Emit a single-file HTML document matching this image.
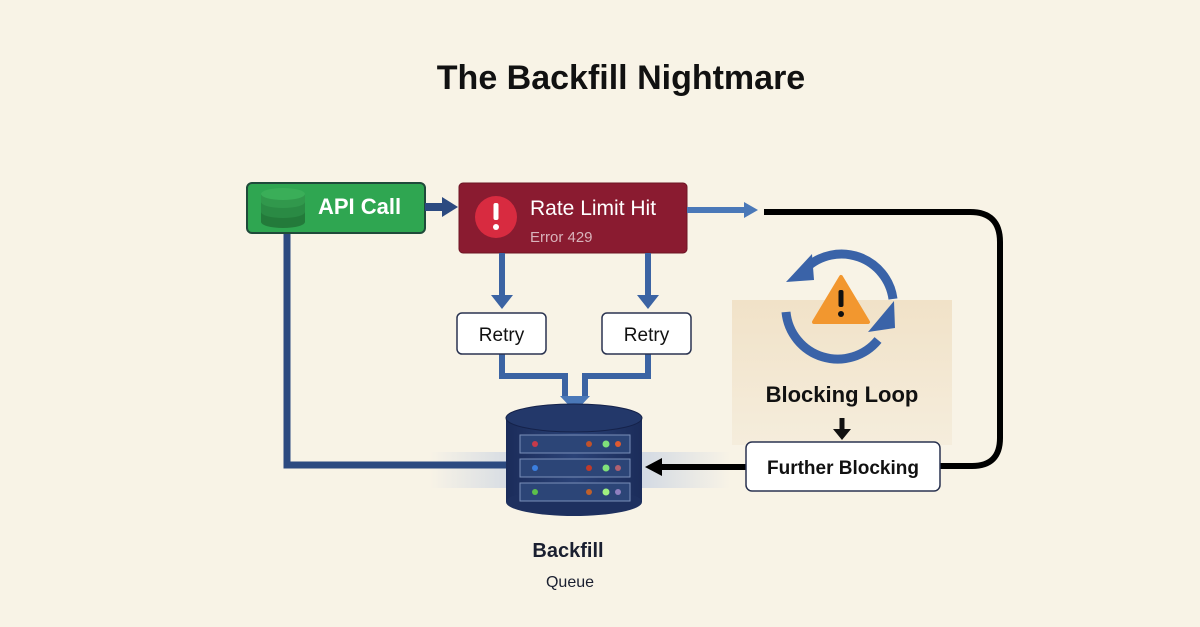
<!DOCTYPE html>
<html><head><meta charset="utf-8"><style>
html,body{margin:0;padding:0;background:#f8f3e6;}
svg{display:block;font-family:"Liberation Sans","DejaVu Sans",sans-serif;}
</style></head><body>
<svg width="1200" height="627" viewBox="0 0 1200 627" xmlns="http://www.w3.org/2000/svg">
<defs>
<linearGradient id="pan" x1="0" y1="0" x2="0" y2="1"><stop offset="0" stop-color="#f1e2c8"/><stop offset="1" stop-color="#f5eddc"/></linearGradient>
<linearGradient id="cyl" x1="0" y1="0" x2="1" y2="0"><stop offset="0" stop-color="#1b2c5a"/><stop offset="0.5" stop-color="#2a4277"/><stop offset="1" stop-color="#1b2c5a"/></linearGradient>
<linearGradient id="glow" x1="0" y1="0" x2="1" y2="0"><stop offset="0" stop-color="#c9d3e3" stop-opacity="0"/><stop offset="0.3" stop-color="#c9d3e3" stop-opacity="0.8"/><stop offset="0.7" stop-color="#c9d3e3" stop-opacity="0.8"/><stop offset="1" stop-color="#c9d3e3" stop-opacity="0"/></linearGradient>
</defs>
<rect width="1200" height="627" fill="#f8f3e6"/>
<text x="621" y="89" text-anchor="middle" font-size="34" font-weight="bold" fill="#111">The Backfill Nightmare</text>

<rect x="430" y="452" width="300" height="36" fill="url(#glow)"/>

<polyline points="287,233 287,465 510,465" fill="none" stroke="#2c4a80" stroke-width="7"/>

<!-- API call -->
<rect x="247" y="183" width="178" height="50" rx="5" fill="#2fa651" stroke="#1f4a3a" stroke-width="2"/>
<g>
<rect x="261" y="212" width="44" height="10" fill="#237a3a"/><ellipse cx="283" cy="222" rx="22" ry="6" fill="#237a3a"/>
<ellipse cx="283" cy="212" rx="22" ry="6" fill="#2a8a44"/>
<rect x="261" y="202" width="44" height="10" fill="#2a8a44"/>
<ellipse cx="283" cy="202" rx="22" ry="6" fill="#31984c"/>
<rect x="261" y="194" width="44" height="8" fill="#31984c"/>
<ellipse cx="283" cy="194" rx="22" ry="6" fill="#3aae58"/>
</g>
<text x="318" y="214" font-size="22" font-weight="bold" fill="#fff">API Call</text>

<line x1="425" y1="207" x2="444" y2="207" stroke="#2c4a80" stroke-width="8"/>
<polygon points="442,197 458,207 442,217" fill="#2c4a80"/>

<rect x="459" y="183" width="228" height="70" rx="4" fill="#8a1b30" stroke="#6d1424" stroke-width="1"/>
<circle cx="496" cy="217" r="21" fill="#d82b40"/>
<rect x="493.5" y="203" width="5" height="17" rx="2" fill="#fff"/><circle cx="496" cy="227" r="3" fill="#fff"/>
<text x="530" y="215" font-size="21" fill="#fff">Rate Limit Hit</text>
<text x="530" y="242" font-size="15" fill="#d9b3bb">Error 429</text>

<line x1="687" y1="210" x2="745" y2="210" stroke="#4a78b8" stroke-width="6"/>
<polygon points="744,202 758,210 744,218" fill="#4a78b8"/>
<path d="M764,212 H970 Q1000,212 1000,242 V438 Q1000,466 972,466 H940" fill="none" stroke="#000" stroke-width="6"/>

<g stroke="#3b63a3" stroke-width="6" fill="none">
<line x1="502" y1="253" x2="502" y2="298"/><line x1="648" y1="253" x2="648" y2="298"/>
<polyline points="502,354 502,376 565,376 565,398"/>
<polyline points="648,354 648,376 585,376 585,398"/>
</g>
<polygon points="491,295 513,295 502,309" fill="#3b63a3"/>
<polygon points="637,295 659,295 648,309" fill="#3b63a3"/>
<polygon points="560,396 590,396 575,412" fill="#4a78b8"/>
<rect x="457" y="313" width="89" height="41" rx="5" fill="#fff" stroke="#2a3350" stroke-width="1.5"/>
<text x="501.5" y="341" text-anchor="middle" font-size="19" fill="#111">Retry</text>
<rect x="602" y="313" width="89" height="41" rx="5" fill="#fff" stroke="#2a3350" stroke-width="1.5"/>
<text x="646.5" y="341" text-anchor="middle" font-size="19" fill="#111">Retry</text>

<rect x="506" y="418" width="136" height="84" fill="url(#cyl)"/>
<ellipse cx="574" cy="502" rx="68" ry="14" fill="#1e305f"/>
<ellipse cx="574" cy="418" rx="68" ry="14" fill="#23386a" stroke="#15224a" stroke-width="1"/>
<g stroke="#7a8fb8" stroke-width="1" fill="#2c4577">
<rect x="520" y="435" width="110" height="18"/><rect x="520" y="459" width="110" height="18"/><rect x="520" y="483" width="110" height="18"/>
</g>
<g>
<circle cx="535" cy="444" r="3" fill="#c63a4a"/><circle cx="589" cy="444" r="3" fill="#c0512a"/><circle cx="606" cy="444" r="3.5" fill="#7fe07a"/><circle cx="618" cy="444" r="3" fill="#e05a30"/>
<circle cx="535" cy="468" r="3" fill="#3b7fe0"/><circle cx="589" cy="468" r="3" fill="#c03a2a"/><circle cx="606" cy="468" r="3.5" fill="#7fe07a"/><circle cx="618" cy="468" r="3" fill="#b06070"/>
<circle cx="535" cy="492" r="3" fill="#5cc04a"/><circle cx="589" cy="492" r="3" fill="#c0602a"/><circle cx="606" cy="492" r="3.5" fill="#9ff080"/><circle cx="618" cy="492" r="3" fill="#9080c0"/>
</g>
<text x="568" y="557" text-anchor="middle" font-size="20" font-weight="bold" fill="#1a1f30">Backfill</text>
<text x="570" y="587" text-anchor="middle" font-size="16" fill="#1a1f30">Queue</text>

<rect x="732" y="300" width="220" height="145" fill="url(#pan)"/>
<g fill="none" stroke="#3a63a8" stroke-width="9">
<path d="M893,299 A52,52 0 0 0 806,268"/>
<path d="M786,312 A52,52 0 0 0 878,340"/>
</g>
<polygon points="786,282 812,254 814,280" fill="#3a63a8"/>
<polygon points="895,328 894,301 868,332" fill="#3a63a8"/>
<polygon points="841,277 868,322 814,322" fill="#f2972f" stroke="#f2972f" stroke-width="4" stroke-linejoin="round"/>
<rect x="838.5" y="290" width="5" height="17" rx="2" fill="#111"/><circle cx="841" cy="314" r="3" fill="#111"/>
<text x="842" y="402" text-anchor="middle" font-size="22" font-weight="bold" fill="#111">Blocking Loop</text>
<line x1="842" y1="418" x2="842" y2="431" stroke="#111" stroke-width="5"/>
<polygon points="833,429 851,429 842,440" fill="#111"/>

<line x1="746" y1="467" x2="660" y2="467" stroke="#000" stroke-width="6"/>
<polygon points="662,458 645,467 662,476" fill="#000"/>
<rect x="746" y="442" width="194" height="49" rx="6" fill="#fff" stroke="#2a3350" stroke-width="1.5"/>
<text x="843" y="474" text-anchor="middle" font-size="19" font-weight="bold" fill="#111">Further Blocking</text>
</svg>
</body></html>
